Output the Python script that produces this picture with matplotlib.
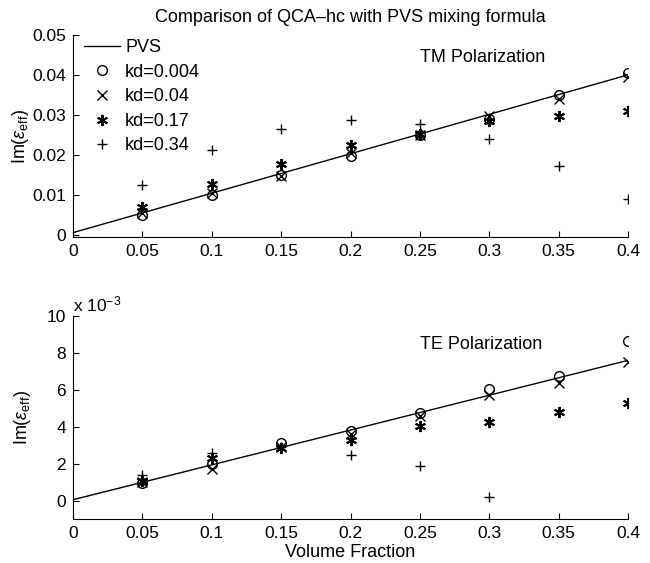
import matplotlib
matplotlib.use("Agg")
import matplotlib.pyplot as plt
import numpy as np

plt.rcParams['font.family'] = ['Liberation Sans', 'DejaVu Sans']
plt.rcParams['mathtext.fontset'] = 'custom'
plt.rcParams['mathtext.rm'] = 'Liberation Sans'
plt.rcParams['mathtext.it'] = 'Liberation Sans:italic'

# ---- data ----
vf = [0.05, 0.10, 0.15, 0.20, 0.25, 0.30, 0.35, 0.40]
pvs_x = [0.0, 0.40]

# TM polarization
tm_pvs = [0.0005, 0.0400]
tm_kd0004 = [0.0050, 0.0098, 0.0150, 0.0198, 0.0250, 0.0290, 0.0350, 0.0405]
tm_kd004 = [0.0055, 0.0105, 0.0148, 0.0205, 0.0250, 0.0298, 0.0340, 0.0395]
tm_kd017 = [0.0070, 0.0127, 0.0178, 0.0225, 0.0253, 0.0285, 0.0298, 0.0310]
tm_kd034 = [0.0125, 0.0212, 0.0265, 0.0287, 0.0278, 0.0239, 0.0172, 0.0088]

# TE polarization (units of 1e-3)
te_pvs = [0.05, 7.6]
te_kd0004 = [0.95, 2.00, 3.10, 3.75, 4.75, 6.05, 6.75, 8.65]
te_kd004 = [1.00, 1.70, 2.90, 3.60, 4.60, 5.70, 6.40, 7.50]
te_kd017 = [1.05, 2.30, 2.85, 3.30, 4.05, 4.25, 4.80, 5.30]
te_vf034 = [0.05, 0.10, 0.15, 0.20, 0.25, 0.30]
te_kd034 = [1.40, 2.60, 2.90, 2.45, 1.85, 0.20]

labels = ['PVS', 'kd=0.004', 'kd=0.04', 'kd=0.17', 'kd=0.34']
xticks = [0, 0.05, 0.1, 0.15, 0.2, 0.25, 0.3, 0.35, 0.4]
xticklabels = ['0', '0.05', '0.1', '0.15', '0.2', '0.25', '0.3', '0.35', '0.4']

asterisk = (6, 2, 0)
fs = 13
tfs = 12.5

fig = plt.figure(figsize=(6.5, 5.63), dpi=100)
ax1 = fig.add_axes([0.1123, 0.579, 0.854, 0.359])
ax2 = fig.add_axes([0.1123, 0.078, 0.854, 0.3606])

def style(ax):
    ax.spines['top'].set_visible(False)
    ax.spines['right'].set_visible(False)
    ax.tick_params(direction='in', length=4, width=0.8, labelsize=tfs, pad=5)
    ax.set_xlim(0, 0.4)
    ax.set_xticks(xticks)
    ax.set_xticklabels(xticklabels)

mk = dict(color='black', linestyle='none', markersize=7, markeredgewidth=1.0)
mka = dict(color='black', linestyle='none', markersize=8, markeredgewidth=1.4)

# TM
ax1.plot(pvs_x, tm_pvs, color='black', lw=1.0, label=labels[0])
ax1.plot(vf, tm_kd0004, marker='o', markerfacecolor='none', label=labels[1], **mk)
ax1.plot(vf, tm_kd004, marker='x', label=labels[2], **mk)
ax1.plot(vf, tm_kd017, marker=asterisk, label=labels[3], **mka)
ax1.plot(vf, tm_kd034, marker='+', label=labels[4], **mk)
style(ax1)
ax1.set_ylim(-0.0006, 0.05)
ax1.set_yticks([0, 0.01, 0.02, 0.03, 0.04, 0.05])
ax1.set_yticklabels(['0', '0.01', '0.02', '0.03', '0.04', '0.05'])
ax1.set_ylabel(r'Im($\varepsilon_{\rm eff}$)', fontsize=fs, labelpad=1)
ax1.text(0.25, 0.0443, 'TM Polarization', fontsize=fs, va='center', ha='left')
ax1.set_title('Comparison of QCA\u2013hc with PVS mixing formula', fontsize=fs, pad=9)
leg = ax1.legend(loc='upper left', frameon=False, fontsize=fs, handlelength=2.0,
                 handletextpad=0.3, labelspacing=0.42, borderaxespad=0.0,
                 bbox_to_anchor=(0.006, 1.015))

# TE
ax2.plot(pvs_x, te_pvs, color='black', lw=1.0)
ax2.plot(vf, te_kd0004, marker='o', markerfacecolor='none', **mk)
ax2.plot(vf, te_kd004, marker='x', **mk)
ax2.plot(vf, te_kd017, marker=asterisk, **mka)
ax2.plot(te_vf034, te_kd034, marker='+', **mk)
style(ax2)
ax2.set_ylim(-1.0, 10.0)
ax2.set_yticks([0, 2, 4, 6, 8, 10])
ax2.set_yticklabels(['0', '2', '4', '6', '8', '10'])
ax2.set_ylabel(r'Im($\varepsilon_{\rm eff}$)', fontsize=fs, labelpad=10)
ax2.set_xlabel('Volume Fraction', fontsize=fs, labelpad=2)
ax2.text(0.25, 8.45, 'TE Polarization', fontsize=fs, va='center', ha='left')
ax2.text(0.0, 1.01, r'x 10$^{-3}$', transform=ax2.transAxes, fontsize=tfs,
         ha='left', va='bottom')

fig.savefig('out.png', dpi=100)
